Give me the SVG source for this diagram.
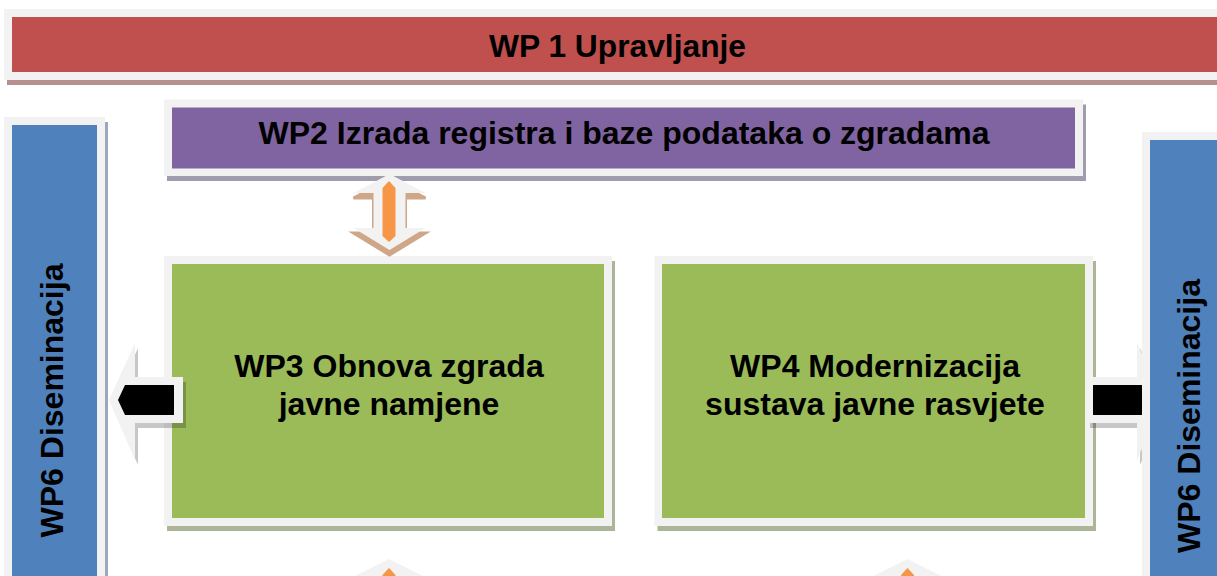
<svg xmlns="http://www.w3.org/2000/svg" width="1217" height="576" viewBox="0 0 1217 576">
<style>
.frame{fill:#f2f2f2}
.lbl{font-family:"Liberation Sans",Arial,sans-serif;font-weight:bold;font-size:32px;fill:#000}
.arw{fill:#f2f2f2}
.arwsh{fill:#000;fill-opacity:0.22}
.tan{fill:#cfa687;stroke:#cfa687;stroke-width:3}
.org{fill:#f79646}
</style>
<rect width="1217" height="576" fill="#ffffff"/>

<g id="wp1">
  <rect x="7" y="14" width="1220" height="71" fill="#b68f8e"/>
  <rect class="frame" x="4" y="9" width="1220" height="71"/>
  <rect x="12" y="17" width="1210" height="55" fill="#c0504d"/>
  <text class="lbl" x="617.5" y="57" font-size="30" text-anchor="middle" textLength="257" lengthAdjust="spacingAndGlyphs">WP 1 Upravljanje</text>
</g>

<g id="wp2">
  <rect x="167" y="104.5" width="919" height="76.5" fill="#a19cad"/>
  <rect class="frame" x="164" y="99.5" width="919" height="76.5"/>
  <rect x="172" y="107.5" width="903" height="61" fill="#8064a2"/>
  <text class="lbl" x="624" y="144" text-anchor="middle">WP2 Izrada registra i baze podataka o zgradama</text>
</g>

<g id="wp6-left">
  <rect x="7" y="122" width="101" height="470" fill="#9ba9bc"/>
  <rect class="frame" x="4" y="117" width="101" height="470"/>
  <rect x="12" y="125" width="85" height="470" fill="#4f81bd"/>
  <text class="lbl" transform="translate(63,400.5) rotate(-90)" text-anchor="middle">WP6 Diseminacija</text>
</g>

<g id="wp3">
  <rect x="167" y="261" width="448" height="270" fill="#aab697"/>
  <rect class="frame" x="164" y="256" width="448" height="270"/>
  <rect x="172" y="264" width="432" height="254" fill="#9bbb59"/>
  <text class="lbl" x="389" y="377" text-anchor="middle">WP3 Obnova zgrada</text>
  <text class="lbl" x="389" y="415" text-anchor="middle">javne namjene</text>
</g>

<g id="wp4">
  <rect x="657.5" y="261" width="438.5" height="270" fill="#aab697"/>
  <rect class="frame" x="654.5" y="256" width="438.5" height="270"/>
  <rect x="662" y="264" width="423" height="254" fill="#9bbb59"/>
  <text class="lbl" x="875" y="377" text-anchor="middle">WP4 Modernizacija</text>
  <text class="lbl" x="875" y="415" text-anchor="middle">sustava javne rasvjete</text>
</g>

<g id="connectors">
  <!-- WP2 <-> WP3 double arrow -->
  <polygon class="tan" points="389.5,179 425.5,198 405.5,198 405.5,233 425.5,233 389.5,255 353.5,233 373.5,233 373.5,198 353.5,198"/>
  <polygon class="arw" points="389.5,174 425.5,193 405.5,193 405.5,228 425.5,228 389.5,250 353.5,228 373.5,228 373.5,193 353.5,193"/>
  <polygon class="org" points="382.5,188 389,181 395.5,188 395.5,236 389,242 382.5,236"/>

  <!-- bottom arrows (partially visible) -->
  <polygon class="arw" points="389,559 429,579 349,579"/>
  <polygon class="org" points="382.5,575 389,568 395.5,575 395.5,580 382.5,580"/>
  <polygon class="arw" points="907.5,559 947.5,579 867.5,579"/>
  <polygon class="org" points="901,575 907.5,568 914,575 914,580 901,580"/>

  <!-- WP3 -> WP6 left -->
  <polygon class="arwsh" points="112,405 138,348 138,382 186,382 186,428 138,428 138,465"/>
  <polygon class="arw" points="109,400 135,343 135,377 183,377 183,423 135,423 135,460"/>
  <polygon fill="#000" points="118,400 125,385 174,385 174,415 125,415"/>

  <!-- WP4 -> WP6 right -->
  <polygon class="arwsh" points="1090,382 1140,382 1140,348 1166,405 1140,465 1140,428 1090,428"/>
  <polygon class="arw" points="1087,377 1137,377 1137,343 1163,400 1137,460 1137,423 1087,423"/>
  <rect x="1093" y="385" width="55" height="30" fill="#000"/>
</g>

<g id="wp6-right">
  <rect x="1145" y="137" width="80" height="450" fill="#9ba9bc"/>
  <rect class="frame" x="1142" y="132" width="80" height="450"/>
  <rect x="1150" y="140" width="70" height="450" fill="#4f81bd"/>
  <text class="lbl" transform="translate(1200,416) rotate(-90)" text-anchor="middle">WP6 Diseminacija</text>
</g>
</svg>
